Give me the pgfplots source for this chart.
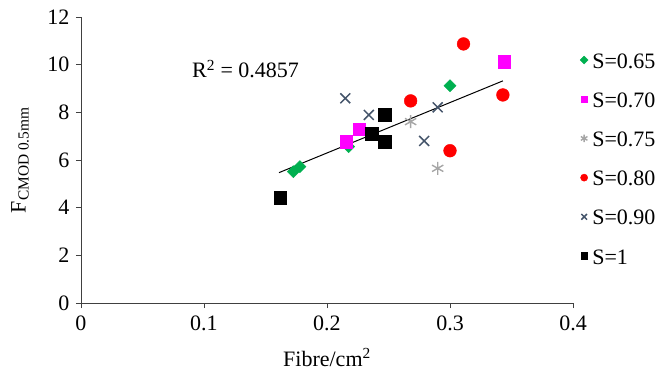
\documentclass[border=0pt]{standalone}
\usepackage{fontspec}
\setmainfont{Liberation Serif}
\usepackage{pgfplots}
\pgfplotsset{compat=1.18}
\definecolor{cgreen}{HTML}{00B050}
\definecolor{cmag}{HTML}{FF00FF}
\definecolor{cgrey}{HTML}{A6A6A6}
\definecolor{cred}{HTML}{FF0000}
\definecolor{cslate}{HTML}{44546A}
\begin{document}
\begin{tikzpicture}
\path[use as bounding box] (-81pt,-72pt) rectangle (578pt,303pt);
\begin{axis}[
  scale only axis, width=492pt, height=286pt,
  xmin=0, xmax=0.4, ymin=0, ymax=12,
  xtick={0,0.1,0.2,0.3,0.4}, ytick={0,2,4,6,8,10,12},
  axis x line*=bottom, axis y line*=left,
  axis line style={black!75, line width=0.8pt},
  tick align=outside, major tick length=5pt,
  tick style={black!75, line width=0.8pt},
  /pgf/number format/assume math mode=true,
  font=\fontsize{22}{26}\selectfont,
  ticklabel style={font=\fontsize{22}{26}\selectfont},
  xticklabel style={/pgf/number format/fixed, yshift=-4pt},
  yticklabel style={xshift=-3pt},
  xlabel={Fibre/cm\textsuperscript{2}},
  ylabel={F\textsubscript{CMOD 0.5mm}},
  xlabel style={at={(axis description cs:0.5,-0.19)}, anchor=center},
  ylabel style={at={(axis description cs:-0.124,0.5)}, anchor=center},
  legend style={at={(axis description cs:1.006,0.881)}, anchor=north west, draw=none, fill=none,
    inner sep=0pt, outer sep=0pt,
    row sep=16.2pt, font=\fontsize{22}{26}\selectfont,
    nodes={inner sep=1pt, text height=16pt, text depth=5pt}},
  legend cell align=left,
  legend image code/.code={\path (0pt,0pt) (15pt,0pt); \draw[#1] plot coordinates {(8pt,2.5pt)};},
  clip=false,
]
\addplot[only marks, mark=square*, mark options={rotate=45, fill=cgreen, draw=cgreen}, mark size=4.3pt,
  legend image post style={mark size=2.8pt}]
  coordinates {(0.1726,5.51) (0.178,5.72) (0.2176,6.56) (0.300,9.12)};
\addlegendentry{S=0.65}
\addplot[only marks, mark=square*, mark options={fill=cmag, draw=cmag}, mark size=6.2pt,
  legend image post style={mark size=3.4pt}]
  coordinates {(0.2154,6.77) (0.226,7.29) (0.344,10.13)};
\addlegendentry{S=0.70}
\addplot[only marks, mark=asterisk, mark options={draw=cgrey, line width=1.4pt}, mark size=6.5pt,
  legend image post style={mark size=3.8pt}]
  coordinates {(0.268,7.61) (0.290,5.65)};
\addlegendentry{S=0.75}
\addplot[only marks, mark=*, mark options={fill=cred, draw=cred}, mark size=6.4pt,
  legend image post style={mark size=3.6pt}]
  coordinates {(0.311,10.87) (0.268,8.48) (0.343,8.73) (0.300,6.39)};
\addlegendentry{S=0.80}
\addplot[only marks, mark=x, mark options={draw=cslate, line width=1.5pt}, mark size=7pt,
  legend image post style={mark size=4pt}]
  coordinates {(0.2149,8.59) (0.234,7.89) (0.290,8.21) (0.279,6.80)};
\addlegendentry{S=0.90}
\addplot[only marks, mark=square*, mark options={fill=black, draw=black}, mark size=6.4pt,
  legend image post style={mark size=3.4pt}]
  coordinates {(0.247,7.89) (0.2363,7.09) (0.247,6.77) (0.162,4.42)};
\addlegendentry{S=1}
\addplot[black, line width=1pt, forget plot] coordinates {(0.161,5.47) (0.343,9.32)};
\node[anchor=west, inner sep=0pt, font=\fontsize{22}{26}\selectfont] at (axis cs:0.0902,9.82) {R\textsuperscript{2} = 0.4857};
\end{axis}
\end{tikzpicture}
\end{document}
